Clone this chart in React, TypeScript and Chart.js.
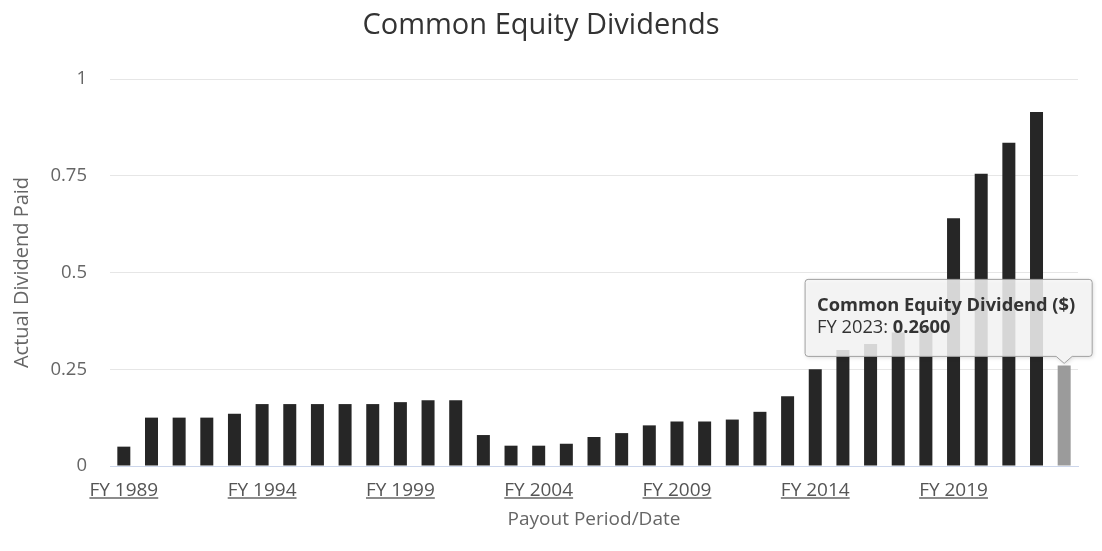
import React, { useEffect, useRef } from "react";
import { Chart, registerables } from "chart.js";

Chart.register(...registerables);

const categories = [
  "FY 1989", "FY 1990", "FY 1991", "FY 1992", "FY 1993", "FY 1994", "FY 1995",
  "FY 1996", "FY 1997", "FY 1998", "FY 1999", "FY 2000", "FY 2001", "FY 2002",
  "FY 2003", "FY 2004", "FY 2005", "FY 2006", "FY 2007", "FY 2008", "FY 2009",
  "FY 2010", "FY 2011", "FY 2012", "FY 2013", "FY 2014", "FY 2015", "FY 2016",
  "FY 2017", "FY 2018", "FY 2019", "FY 2020", "FY 2021", "FY 2022", "FY 2023",
];

const dividends = [
  0.05, 0.125, 0.125, 0.125, 0.135, 0.16, 0.16,
  0.16, 0.16, 0.16, 0.165, 0.17, 0.17, 0.08,
  0.0525, 0.0525, 0.0575, 0.075, 0.085, 0.105, 0.115,
  0.115, 0.12, 0.14, 0.18, 0.25, 0.30, 0.315,
  0.345, 0.36, 0.64, 0.755, 0.835, 0.915, 0.26,
];

const yTicks = [0, 0.25, 0.5, 0.75, 1];
const yTickLabels = ["0", "0.25", "0.5", "0.75", "1"];

const chartTitle = "Common Equity Dividends";
const seriesName = "Common Equity Dividend ($)";
const xTitle = "Payout Period/Date";
const yTitle = "Actual Dividend Paid";
const hoverIndex = dividends.length - 1;

const FONT = "'Open Sans', 'DejaVu Sans', sans-serif";
const XTICK_SIZE = 19;
const TIP_SIZE = 18.3;

const titlePlugin = {
  id: "customTitle",
  afterDraw(chart: any) {
    const ctx = chart.ctx;
    ctx.save();
    ctx.font = `29px ${FONT}`;
    ctx.fillStyle = "#333333";
    ctx.textAlign = "center";
    ctx.textBaseline = "middle";
    ctx.fillText(chartTitle, 541, 26);
    ctx.restore();
  },
};

const underlinePlugin = {
  id: "underlineTicks",
  afterDraw(chart: any) {
    const xs = chart.scales.x;
    const ctx = chart.ctx;
    ctx.save();
    ctx.font = `${XTICK_SIZE}px ${FONT}`;
    ctx.strokeStyle = "#666666";
    ctx.lineWidth = 1.3;
    xs.ticks.forEach((t: any, i: number) => {
      const label = i % 5 === 0 ? categories[i] : "";
      if (!label) return;
      const x = xs.getPixelForTick(i);
      const w = ctx.measureText(label).width;
      ctx.beginPath();
      ctx.moveTo(x - w / 2, 498);
      ctx.lineTo(x + w / 2, 498);
      ctx.stroke();
    });
    ctx.restore();
  },
};

const tooltipPlugin = {
  id: "fakeTooltip",
  afterDatasetsDraw(chart: any) {
    const meta = chart.getDatasetMeta(0);
    const el = meta.data[hoverIndex];
    if (!el) return;
    const px = el.x;
    const py = el.y;
    const ctx = chart.ctx;
    ctx.save();
    ctx.font = `bold ${TIP_SIZE}px ${FONT}`;
    const tW = ctx.measureText(seriesName).width;
    const label2a = categories[hoverIndex] + ": ";
    const label2b = dividends[hoverIndex].toFixed(4);
    ctx.font = `${TIP_SIZE}px ${FONT}`;
    const aW = ctx.measureText(label2a).width;
    ctx.font = `bold ${TIP_SIZE}px ${FONT}`;
    const bW = ctx.measureText(label2b).width;
    const w = Math.max(tW, aW + bW) + 29;
    const h = 77;
    const right = px + 28;
    const left = right - w;
    const bottom = py - 9;
    const top = bottom - h;
    const r = 3;
    ctx.beginPath();
    ctx.moveTo(left + r, top);
    ctx.lineTo(right - r, top);
    ctx.quadraticCurveTo(right, top, right, top + r);
    ctx.lineTo(right, bottom - r);
    ctx.quadraticCurveTo(right, bottom, right - r, bottom);
    ctx.lineTo(px + 8, bottom);
    ctx.lineTo(px, py - 2);
    ctx.lineTo(px - 8, bottom);
    ctx.lineTo(left + r, bottom);
    ctx.quadraticCurveTo(left, bottom, left, bottom - r);
    ctx.lineTo(left, top + r);
    ctx.quadraticCurveTo(left, top, left + r, top);
    ctx.closePath();
    ctx.shadowColor = "rgba(0,0,0,0.18)";
    ctx.shadowOffsetX = 1;
    ctx.shadowOffsetY = 1;
    ctx.shadowBlur = 4;
    ctx.fillStyle = "rgba(247,247,247,0.85)";
    ctx.fill();
    ctx.shadowColor = "transparent";
    ctx.strokeStyle = "#a0a0a0";
    ctx.lineWidth = 1;
    ctx.stroke();
    ctx.fillStyle = "#333333";
    ctx.textBaseline = "middle";
    ctx.textAlign = "left";
    ctx.font = `bold ${TIP_SIZE}px ${FONT}`;
    ctx.fillText(seriesName, left + 12, top + 26);
    ctx.font = `${TIP_SIZE}px ${FONT}`;
    ctx.fillText(label2a, left + 12, top + 48);
    ctx.font = `bold ${TIP_SIZE}px ${FONT}`;
    ctx.fillText(label2b, left + 12 + aW, top + 48);
    ctx.restore();
  },
};

export default function App() {
  const canvasRef = useRef<HTMLCanvasElement | null>(null);

  useEffect(() => {
    document.body.style.margin = "0";
    const canvas = canvasRef.current;
    if (!canvas) return;
    const colors = dividends.map((_, i) => (i === hoverIndex ? "#9b9b9b" : "#262626"));
    const chart = new Chart(canvas, {
      type: "bar",
      data: {
        labels: categories,
        datasets: [
          {
            label: seriesName,
            data: dividends,
            backgroundColor: colors,
            borderColor: colors,
            borderWidth: 0,
            barPercentage: 0.47,
            categoryPercentage: 1,
          },
        ],
      },
      options: {
        responsive: false,
        animation: false,
        events: [],
        layout: { padding: { top: 79, left: 0, right: 24, bottom: 0 } },
        plugins: {
          legend: { display: false },
          title: { display: false },
          tooltip: { enabled: false },
        },
        scales: {
          x: {
            afterFit: (scale: any) => {
              scale.height = 85;
            },
            grid: { display: false, drawTicks: false },
            border: { display: true, color: "#ccd6eb", width: 1 },
            ticks: {
              autoSkip: false,
              maxRotation: 0,
              minRotation: 0,
              padding: 13,
              color: "#555555",
              font: { family: FONT, size: XTICK_SIZE },
              callback: (_v: any, i: number) => (i % 5 === 0 ? categories[i] : ""),
            },
            title: {
              display: true,
              text: xTitle,
              color: "#666666",
              font: { family: FONT, size: 19 },
              padding: { top: 20, bottom: 20 },
            },
          },
          y: {
            min: 0,
            max: 1,
            afterFit: (scale: any) => {
              scale.width = 110;
            },
            afterBuildTicks: (scale: any) => {
              scale.ticks = yTicks.map((v) => ({ value: v }));
            },
            grid: {
              color: (c: any) => (c.tick && c.tick.value === 0 ? "#ccd6eb" : "#e6e6e6"),
              drawTicks: false,
              lineWidth: 1,
            },
            border: { display: false },
            ticks: {
              padding: 23,
              color: "#666666",
              font: { family: FONT, size: 18.5 },
              callback: (v: any) => {
                const i = yTicks.indexOf(Number(v));
                return i >= 0 ? yTickLabels[i] : "";
              },
            },
            title: {
              display: true,
              text: yTitle,
              color: "#666666",
              font: { family: FONT, size: 20 },
              padding: { top: 10, bottom: 10 },
            },
          },
        },
      },
      plugins: [titlePlugin, underlinePlugin, tooltipPlugin],
    });
    return () => chart.destroy();
  }, []);

  return (
    <div style={{ position: "absolute", left: 0, top: 0, width: 1102, height: 551, background: "#ffffff" }}>
      <canvas ref={canvasRef} width={1102} height={551} style={{ width: 1102, height: 551 }} />
    </div>
  );
}
